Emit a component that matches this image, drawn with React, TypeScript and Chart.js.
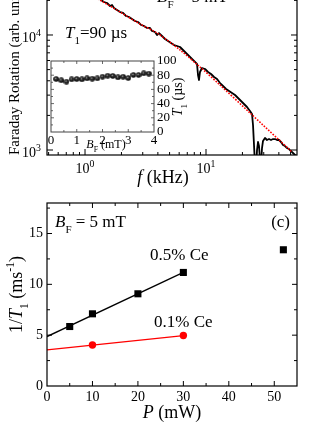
import React, { useEffect, useRef } from 'react';
import { Chart, registerables } from 'chart.js';

Chart.register(...registerables);

const SERIF = '"Liberation Serif", "Times New Roman", Times, serif';

// ---------- Panel (b): Faraday rotation noise spectrum (log-log) ----------
const spectrumFreq = [
  1.281, 1.356, 1.436, 1.52, 1.609, 1.672, 1.736, 1.839, 1.947, 2.061, 2.182, 2.31, 2.446, 2.59, 2.742,
  2.903, 3.073, 3.254, 3.445, 3.579, 3.789, 3.936, 4.089, 4.329, 4.583, 4.853, 5.137, 5.44, 5.759, 6.097,
  6.455, 6.834, 7.235, 7.661, 8.111, 8.425, 8.587, 8.752, 8.92, 9.268, 9.811, 10.39, 11.0, 11.65, 12.33,
  13.06, 13.82, 14.64, 15.5, 16.41, 17.37, 18.39, 19.47, 20.61, 21.82, 23.1, 24.0, 24.46, 24.93, 25.41,
  25.9, 26.4, 26.9, 27.42, 27.95, 28.48, 29.03, 29.59, 30.73, 31.92, 33.17, 34.45, 35.79, 37.17, 38.63,
  40.12, 41.67, 43.3, 44.97, 46.71, 48.53, 50.41, 52.36, 54.39, 56.51,
];
const spectrumAmp = [
  21400, 20150, 19360, 18980, 17870, 18240, 17170, 16500, 15850, 15540, 14630, 14340, 13770, 13240, 12970,
  12220, 11970, 11510, 11510, 10830, 10620, 10000, 10400, 9802, 9231, 8867, 8519, 8185, 8023, 7864,
  7406, 6975, 6569, 6186, 5826, 5596, 4489, 4061, 4768, 5164, 5062, 4768, 4581, 4313, 4144,
  3824, 3602, 3392, 3258, 3131, 3008, 2833, 2668, 2512, 2366, 2183, 2056, 1650, 1106, 740,
  670, 1000, 1174, 1083, 818, 740, 1041, 1198, 1272, 1222, 1246, 1222, 1246, 1246, 1222,
  1222, 1174, 1106, 1083, 1041, 1020, 980, 942, 905, 869,
];
const fitFreq = [1.0, 1.33, 1.95, 2.85, 3.94, 6.1, 8.92, 13.05, 23.1, 51.4];
const fitAmp = [24150, 20140, 15850, 12460, 10400, 7410, 5270, 3675, 2100, 961];
const freqRange = [0.485, 56.5];
const ampRange = [905, 36740];
const freqMajorTicks = [1, 10];
const freqMinorTicks = [0.5, 0.6, 0.7, 0.8, 0.9, 2, 3, 4, 5, 6, 7, 8, 9, 20, 30, 40, 50];
const ampMajorTicks = [1000, 10000];
const ampMinorTicks = [2000, 3000, 4000, 5000, 6000, 7000, 8000, 9000, 20000, 30000];

// ---------- Inset: T1 vs B_F ----------
const insetField = [0.2, 0.4, 0.6, 0.8, 1.0, 1.2, 1.4, 1.6, 1.8, 2.0, 2.2, 2.4, 2.6, 2.8, 3.0, 3.2, 3.4, 3.6, 3.8];
const insetT1 = [74.6, 72.8, 70.9, 74.2, 74.6, 74.2, 75.6, 75.1, 75.6, 77.9, 79.3, 78.9, 77.0, 77.9, 76.0, 80.3, 80.3, 82.6, 82.2];
const insetFieldTicks = [0, 1, 2, 3, 4];
const insetFieldMinor = [0.5, 1.5, 2.5, 3.5];
const insetT1Ticks = [0, 20, 40, 60, 80, 100];
const insetT1Minor = [10, 30, 50, 70, 90];

// ---------- Panel (c): 1/T1 vs pump power ----------
const power05 = [5, 10, 20, 30, 52];
const rate05 = [5.85, 7.1, 9.07, 11.17, 13.4];
const fitPower05 = [0, 30];
const fitRate05 = [4.86, 11.17];
const power01 = [10, 30];
const rate01 = [4.04, 4.96];
const fitPower01 = [0, 30];
const fitRate01 = [3.55, 4.96];
const powerTicks = [0, 10, 20, 30, 40, 50];
const powerMinor = [5, 15, 25, 35, 45];
const rateTicks = [0, 5, 10, 15];
const rateMinor = [2.5, 7.5, 12.5, 17.5];

type Seg = { t: string; it?: boolean; sub?: boolean; sup?: boolean };

function rich(
  ctx: CanvasRenderingContext2D,
  segs: Seg[],
  x: number,
  y: number,
  size: number,
  align: 'left' | 'center' | 'right' = 'left',
  rot = 0,
  small = 0.65,
) {
  ctx.save();
  ctx.translate(x, y);
  if (rot) ctx.rotate(rot);
  ctx.textBaseline = 'alphabetic';
  ctx.textAlign = 'left';
  ctx.fillStyle = '#000';
  const items = segs.map((s) => {
    const sz = s.sub || s.sup ? size * small : size;
    const font = `${s.it ? 'italic ' : ''}${sz}px ${SERIF}`;
    ctx.font = font;
    return { t: s.t, font, w: ctx.measureText(s.t).width, dy: s.sub ? size * 0.36 : s.sup ? -size * 0.42 : 0 };
  });
  const total = items.reduce((acc, it) => acc + it.w, 0);
  let cx = align === 'left' ? 0 : align === 'center' ? -total / 2 : -total;
  for (const it of items) {
    ctx.font = it.font;
    ctx.fillText(it.t, cx, it.dy);
    cx += it.w;
  }
  ctx.restore();
}

function drawTicks(chart: any, axis: 'x' | 'y', values: number[], len: number) {
  const { ctx, chartArea: a } = chart;
  const s = chart.scales[axis];
  ctx.beginPath();
  values.forEach((v) => {
    const p = s.getPixelForValue(v);
    if (axis === 'x') {
      if (p <= a.left + 0.5 || p >= a.right - 0.5) return;
      ctx.moveTo(p, a.bottom);
      ctx.lineTo(p, a.bottom - len);
      ctx.moveTo(p, a.top);
      ctx.lineTo(p, a.top + len);
    } else {
      if (p <= a.top + 0.5 || p >= a.bottom - 0.5) return;
      ctx.moveTo(a.left, p);
      ctx.lineTo(a.left + len, p);
      ctx.moveTo(a.right, p);
      ctx.lineTo(a.right - len, p);
    }
  });
  ctx.stroke();
}

function frame(chart: any, color: string, width: number) {
  const { ctx, chartArea: a } = chart;
  ctx.strokeStyle = color;
  ctx.lineWidth = width;
  ctx.strokeRect(a.left, a.top, a.right - a.left, a.bottom - a.top);
}

const topDeco = {
  id: 'topDeco',
  afterDraw(chart: any) {
    const ctx = chart.ctx as CanvasRenderingContext2D;
    const xs = chart.scales.x;
    const ys = chart.scales.y;
    ctx.save();
    frame(chart, '#000', 1.2);
    ctx.lineWidth = 1;
    drawTicks(chart, 'x', freqMajorTicks, 6);
    drawTicks(chart, 'x', freqMinorTicks, 3);
    drawTicks(chart, 'y', ampMajorTicks, 6);
    drawTicks(chart, 'y', ampMinorTicks, 3);
    freqMajorTicks.forEach((v) => {
      const px = xs.getPixelForValue(v);
      rich(ctx, [{ t: '10' }, { t: String(Math.round(Math.log10(v))), sup: true }], px, 203, 14, 'center', 0, 0.7);
    });
    ampMajorTicks.forEach((v) => {
      const py = ys.getPixelForValue(v);
      rich(ctx, [{ t: '10' }, { t: String(Math.round(Math.log10(v))), sup: true }], 41, py + 7, 14, 'right', 0, 0.7);
    });
    rich(ctx, [{ t: 'f', it: true }, { t: ' (kHz)' }], 163, 213, 18, 'center');
    rich(ctx, [{ t: 'Faraday Rotation (arb. units)' }], 19, 185, 15, 'left', -Math.PI / 2);
    rich(ctx, [{ t: 'T', it: true }, { t: '1', sub: true }, { t: '=90 µs' }], 65, 68, 17, 'left');
    rich(ctx, [{ t: 'B', it: true }, { t: 'F', sub: true }, { t: ' = 5 mT' }], 157, 32, 17, 'left');
    ctx.restore();
  },
};

const insetDeco = {
  id: 'insetDeco',
  afterDraw(chart: any) {
    const ctx = chart.ctx as CanvasRenderingContext2D;
    ctx.save();
    frame(chart, '#444', 1);
    ctx.lineWidth = 0.8;
    drawTicks(chart, 'x', insetFieldTicks, 3);
    drawTicks(chart, 'x', insetFieldMinor, 2);
    drawTicks(chart, 'y', insetT1Ticks, 3);
    drawTicks(chart, 'y', insetT1Minor, 2);
    rich(ctx, [{ t: 'B', it: true }, { t: 'F', sub: true }, { t: ' (mT)' }], 66, 98, 12, 'center');
    rich(ctx, [{ t: 'T', it: true }, { t: '1', sub: true }, { t: ' (µs)' }], 142, 47, 14, 'center', -Math.PI / 2);
    ctx.restore();
  },
};

const bottomDeco = {
  id: 'bottomDeco',
  afterDraw(chart: any) {
    const ctx = chart.ctx as CanvasRenderingContext2D;
    ctx.save();
    frame(chart, '#000', 1.2);
    ctx.lineWidth = 1;
    drawTicks(chart, 'x', powerTicks, 5);
    drawTicks(chart, 'x', powerMinor, 3);
    drawTicks(chart, 'y', rateTicks, 5);
    drawTicks(chart, 'y', rateMinor, 3);
    rich(ctx, [{ t: 'B', it: true }, { t: 'F', sub: true }, { t: ' = 5 mT' }], 55, 47, 17, 'left');
    rich(ctx, [{ t: '(c)' }], 290, 47, 17, 'right');
    rich(ctx, [{ t: '0.5% Ce' }], 150, 80, 17, 'left');
    rich(ctx, [{ t: '0.1% Ce' }], 154, 147, 17, 'left');
    rich(ctx, [{ t: 'P', it: true }, { t: ' (mW)' }], 172, 238, 18, 'center');
    rich(
      ctx,
      [{ t: '1/' }, { t: 'T', it: true }, { t: '1', sub: true }, { t: ' (ms' }, { t: '-1', sup: true }, { t: ')' }],
      22,
      114.5,
      18,
      'center',
      -Math.PI / 2,
    );
    ctx.restore();
  },
};

function makeBall(): HTMLCanvasElement {
  const c = document.createElement('canvas');
  c.width = 6;
  c.height = 6;
  const g = c.getContext('2d')!;
  const grad = g.createRadialGradient(2.3, 2.2, 0.1, 3, 3, 3);
  grad.addColorStop(0, '#b0b0b0');
  grad.addColorStop(0.35, '#303030');
  grad.addColorStop(1, '#000');
  g.fillStyle = grad;
  g.beginPath();
  g.arc(3, 3, 2.8, 0, Math.PI * 2);
  g.fill();
  return c;
}

const tickFont = (size: number) => ({ family: SERIF, size });
const pts = (xs: number[], ys: number[]) => xs.map((x, i) => ({ x, y: ys[i] }));

export default function App() {
  const topRef = useRef<HTMLCanvasElement>(null);
  const insetRef = useRef<HTMLCanvasElement>(null);
  const botRef = useRef<HTMLCanvasElement>(null);

  useEffect(() => {
    const charts: Chart[] = [];
    const common = {
      responsive: false,
      animation: false as const,
      events: [] as any[],
      plugins: { legend: { display: false }, tooltip: { enabled: false } },
    };

    charts.push(
      new Chart(topRef.current!, {
        type: 'scatter',
        data: {
          datasets: [
            {
              data: pts(fitFreq, fitAmp),
              showLine: true,
              borderColor: '#ff0000',
              borderWidth: 1.6,
              borderDash: [1.6, 1.4],
              pointRadius: 0,
              tension: 0.3,
              order: 0,
            },
            {
              data: pts(spectrumFreq, spectrumAmp),
              showLine: true,
              borderColor: '#000',
              borderWidth: 1.8,
              borderJoinStyle: 'round',
              pointRadius: 0,
              order: 1,
            },
          ],
        },
        options: {
          ...common,
          layout: { padding: { left: 47, right: 35, top: 0, bottom: 35 }, autoPadding: false },
          scales: {
            x: { type: 'logarithmic', min: freqRange[0], max: freqRange[1], display: false },
            y: { type: 'logarithmic', min: ampRange[0], max: ampRange[1], display: false },
          },
        } as any,
        plugins: [topDeco],
      }),
    );

    const ball = makeBall();
    charts.push(
      new Chart(insetRef.current!, {
        type: 'scatter',
        data: {
          datasets: [
            {
              data: pts(insetField, insetT1),
              pointStyle: ball as any,
              pointRadius: 3,
              showLine: false,
            },
          ],
        },
        options: {
          ...common,
          layout: { padding: { left: 11, right: 0, top: 11, bottom: 0 }, autoPadding: false },
          scales: {
            x: {
              type: 'linear',
              position: 'bottom',
              min: 0,
              max: 4,
              afterFit: (s: any) => {
                s.height = 28;
              },
              afterBuildTicks: (s: any) => {
                s.ticks = insetFieldTicks.map((v) => ({ value: v }));
              },
              grid: { display: false, drawTicks: false },
              border: { display: false },
              ticks: { color: '#000', font: tickFont(13), padding: 1, maxRotation: 0, autoSkip: false },
            },
            y: {
              type: 'linear',
              position: 'right',
              min: 0,
              max: 100,
              afterFit: (s: any) => {
                s.width = 46;
              },
              afterBuildTicks: (s: any) => {
                s.ticks = insetT1Ticks.map((v) => ({ value: v }));
              },
              grid: { display: false, drawTicks: false },
              border: { display: false },
              ticks: { color: '#000', font: tickFont(13), padding: 3, autoSkip: false },
            },
          },
        } as any,
        plugins: [insetDeco],
      }),
    );

    charts.push(
      new Chart(botRef.current!, {
        type: 'scatter',
        data: {
          datasets: [
            {
              data: pts(power05, rate05),
              pointStyle: 'rect',
              pointRadius: 5,
              backgroundColor: '#000',
              borderColor: '#000',
              borderWidth: 0,
              order: 0,
            },
            {
              data: pts(power01, rate01),
              pointStyle: 'circle',
              pointRadius: 3.7,
              backgroundColor: '#ff0000',
              borderColor: '#ff0000',
              borderWidth: 0,
              order: 0,
            },
            {
              data: pts(fitPower05, fitRate05),
              showLine: true,
              borderColor: '#000',
              borderWidth: 1.3,
              pointRadius: 0,
              order: 1,
            },
            {
              data: pts(fitPower01, fitRate01),
              showLine: true,
              borderColor: '#ff0000',
              borderWidth: 1.3,
              pointRadius: 0,
              order: 1,
            },
          ],
        },
        options: {
          ...common,
          layout: { padding: { left: 0, right: 35, top: 23, bottom: 0 }, autoPadding: false },
          scales: {
            x: {
              type: 'linear',
              position: 'bottom',
              min: 0,
              max: 55,
              afterFit: (s: any) => {
                s.height = 44;
              },
              afterBuildTicks: (s: any) => {
                s.ticks = powerTicks.map((v) => ({ value: v }));
              },
              grid: { display: false, drawTicks: false },
              border: { display: false },
              ticks: { color: '#000', font: tickFont(14), padding: 3, maxRotation: 0, autoSkip: false },
            },
            y: {
              type: 'linear',
              position: 'left',
              min: 0,
              max: 18,
              afterFit: (s: any) => {
                s.width = 47;
              },
              afterBuildTicks: (s: any) => {
                s.ticks = rateTicks.map((v) => ({ value: v }));
              },
              grid: { display: false, drawTicks: false },
              border: { display: false },
              ticks: { color: '#000', font: tickFont(14), padding: 4, autoSkip: false },
            },
          },
        } as any,
        plugins: [bottomDeco],
      }),
    );

    return () => charts.forEach((c) => c.destroy());
  }, []);

  return (
    <div
      style={{
        position: 'fixed',
        left: 0,
        top: 0,
        width: 332,
        height: 430,
        overflow: 'hidden',
        background: '#fff',
      }}
    >
      <canvas
        ref={topRef}
        width={332}
        height={220}
        style={{ position: 'absolute', left: 0, top: -30, width: 332, height: 220 }}
      />
      <canvas
        ref={botRef}
        width={332}
        height={250}
        style={{ position: 'absolute', left: 0, top: 180, width: 332, height: 250 }}
      />
      <canvas
        ref={insetRef}
        width={160}
        height={110}
        style={{ position: 'absolute', left: 40, top: 50, width: 160, height: 110 }}
      />
    </div>
  );
}
